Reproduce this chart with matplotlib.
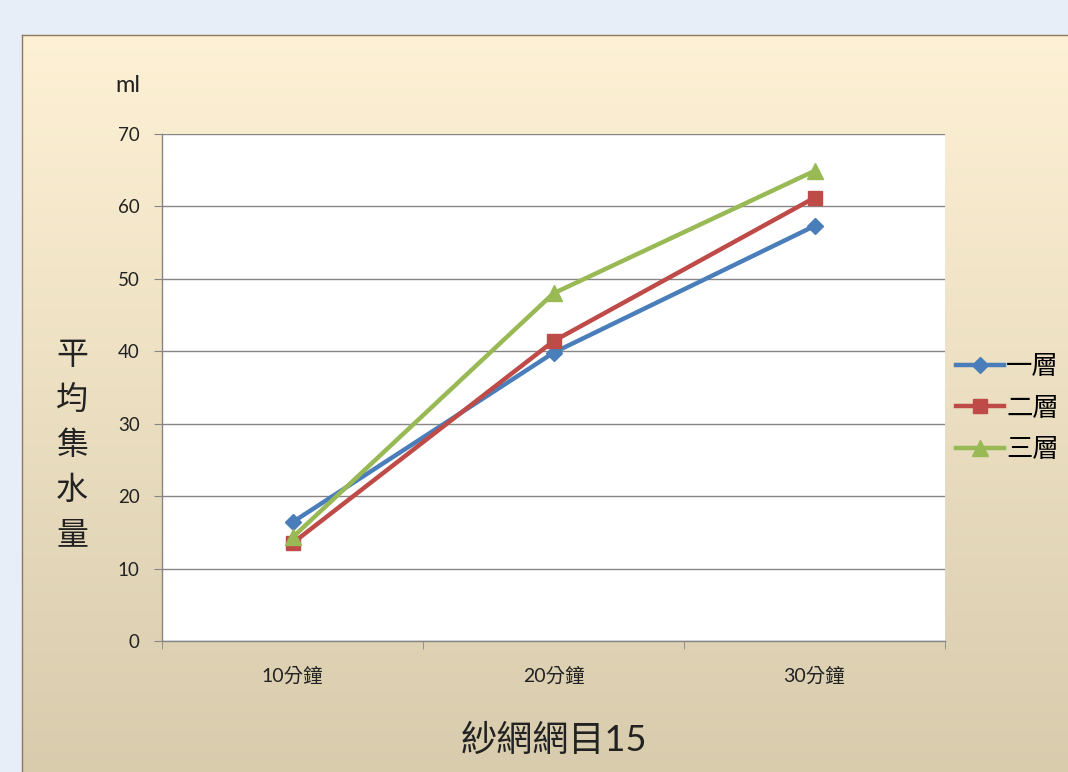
import numpy as np
import matplotlib
matplotlib.use("Agg")
import matplotlib.pyplot as plt
from matplotlib.lines import Line2D

plt.rcParams['font.family'] = ['Lato', 'Noto Sans CJK TC', 'DejaVu Sans']

# Data
categories = ['10分鐘', '20分鐘', '30分鐘']
series_names = ['一層', '二層', '三層']
one_layer = [16.4, 39.8, 57.3]
two_layer = [13.5, 41.4, 61.2]
three_layer = [14.3, 48.0, 64.9]
y_ticks = [0, 10, 20, 30, 40, 50, 60, 70]

colors = ['#4a7ebb', '#be4b48', '#98b954']
markers = ['D', 's', '^']
marker_sizes = [8, 10, 11]

W, H = 1068, 772
fig = plt.figure(figsize=(W / 100, H / 100), dpi=100)
fig.patch.set_facecolor('#e7eef8')

# Chart panel with a vertical cream-to-tan gradient
px0, py_top = 22, 35
bg = fig.add_axes([px0 / W, 0, 1 - px0 / W, (H - py_top) / H])
top = np.array([0.995, 0.945, 0.835])
bot = np.array([0.850, 0.800, 0.680])
t = np.linspace(0, 1, 256)[:, None]
grad = top[None, :] * (1 - t) + bot[None, :] * t
bg.imshow(grad[:, None, :].repeat(2, axis=1), aspect='auto', extent=[0, 1, 0, 1])
bg.set_xlim(0, 1)
bg.set_ylim(0, 1)
bg.set_xticks([])
bg.set_yticks([])
for s in ['right', 'bottom']:
    bg.spines[s].set_visible(False)
for s in ['left', 'top']:
    bg.spines[s].set_color('#8c7a5e')
    bg.spines[s].set_linewidth(1.0)

# Plot area
x0, x1, y0, y1 = 162, 945, 134, 641
ax = fig.add_axes([x0 / W, 1 - y1 / H, (x1 - x0) / W, (y1 - y0) / H])
ax.set_facecolor('white')
x = np.arange(len(categories))
for vals, c, m, ms, name in zip([one_layer, two_layer, three_layer], colors, markers, marker_sizes, series_names):
    ax.plot(x, vals, color=c, lw=3.2, marker=m, markersize=ms, label=name, zorder=3)

ax.set_xlim(-0.5, len(categories) - 0.5)
ax.set_ylim(0, 70)
ax.set_yticks(y_ticks)
ax.set_yticklabels([str(v) for v in y_ticks], fontsize=13.5, color='#222222')
ax.yaxis.grid(True, color='#868686', lw=1.0)
ax.set_axisbelow(True)
ax.set_xticks(x)
ax.set_xticklabels(categories, fontsize=14, color='#222222')
ax.tick_params(axis='x', length=0, pad=18)
ax.set_xticks(np.arange(-0.5, len(categories), 1.0), minor=True)
ax.tick_params(axis='x', which='minor', length=6, color='#868686', direction='out')
ax.tick_params(axis='y', length=6, color='#868686', direction='out', pad=10)
for s in ['top', 'right']:
    ax.spines[s].set_visible(False)
for s in ['left', 'bottom']:
    ax.spines[s].set_color('#868686')
    ax.spines[s].set_linewidth(1.0)

# Axis titles
fig.text(128 / W, 1 - 85 / H, 'ml', fontsize=17, ha='center', va='center', color='#222222')
fig.text(72 / W, 1 - 445 / H, '平\n均\n集\n水\n量', fontsize=23, ha='center', va='center',
         linespacing=1.62, color='#222222')
fig.text(554 / W, 1 - 740 / H, '紗網網目15', fontsize=26, ha='center', va='center', color='#222222')

# Legend
handles = [Line2D([], [], color=c, lw=3.2, marker=m, markersize=ms)
           for c, m, ms in zip(colors, markers, marker_sizes)]
fig.legend(handles, series_names, loc='center left', bbox_to_anchor=(956 / W, 1 - 408 / H),
           frameon=False, fontsize=19, handlelength=1.8, handletextpad=0.1, labelspacing=0.62,
           borderpad=0, borderaxespad=0)

fig.savefig('out.png', dpi=100, facecolor=fig.get_facecolor())
